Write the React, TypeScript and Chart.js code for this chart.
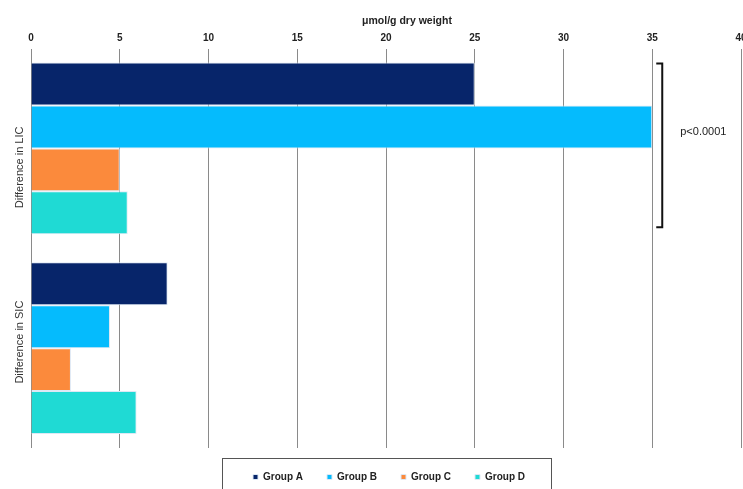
import React, { useEffect, useRef } from "react";
import { Chart, registerables } from "chart.js";

Chart.register(...registerables);

const categories = ["Difference in LIC", "Difference in SIC"];
const seriesNames = ["Group A", "Group B", "Group C", "Group D"];
const groupA = [25, 7.7];
const groupB = [35, 4.45];
const groupC = [5, 2.25];
const groupD = [5.45, 5.95];
const seriesColors = ["#07256a", "#05bbfd", "#fb8a3c", "#1fdad4"];
const xTicks = [0, 5, 10, 15, 20, 25, 30, 35, 40];
const xTitle = "μmol/g dry weight";
const pValueLabel = "p<0.0001";

const FONT = "'Liberation Sans', Arial, sans-serif";
// vertical nudge of each rotated category label (px), as in the original layout
const categoryLabelShift = [19, -6];

const annotate = {
  id: "annotate",
  afterDraw(chart: any) {
    const { ctx, chartArea, scales } = chart;
    const x = scales.x;
    const y = scales.y;
    ctx.save();
    // axis title
    ctx.font = `bold 10.5px ${FONT}`;
    ctx.fillStyle = "#222";
    ctx.textAlign = "center";
    ctx.textBaseline = "middle";
    ctx.fillText(xTitle, (chartArea.left + chartArea.right) / 2 + 21, 21);
    // category labels
    ctx.font = `11px ${FONT}`;
    ctx.fillStyle = "#333";
    categories.forEach((c, i) => {
      const py = y.getPixelForValue(i) + categoryLabelShift[i];
      ctx.save();
      ctx.translate(chartArea.left - 11, py);
      ctx.rotate(-Math.PI / 2);
      ctx.fillText(c, 0, 0);
      ctx.restore();
    });
    // bracket
    const first = chart.getDatasetMeta(0).data[0];
    const last = chart.getDatasetMeta(3).data[0];
    const bx = x.getPixelForValue(35) + 10;
    const top = first.y - first.height / 2 + 1;
    const bottom = last.y + last.height / 2 - 7;
    ctx.strokeStyle = "#111";
    ctx.lineWidth = 2;
    ctx.beginPath();
    ctx.moveTo(bx - 6, top);
    ctx.lineTo(bx, top);
    ctx.lineTo(bx, bottom);
    ctx.lineTo(bx - 6, bottom);
    ctx.stroke();
    ctx.font = `11px ${FONT}`;
    ctx.fillStyle = "#222";
    ctx.textAlign = "left";
    ctx.fillText(pValueLabel, bx + 18, (top + bottom) / 2 - 13);
    // legend frame
    const boxes = chart.legend?.legendHitBoxes;
    if (boxes && boxes.length) {
      const l = boxes[0].left - 31;
      const r = boxes[boxes.length - 1].left + boxes[boxes.length - 1].width + 26;
      const t = boxes[0].top - 14;
      ctx.strokeStyle = "#555";
      ctx.lineWidth = 1;
      ctx.strokeRect(Math.round(l) + 0.5, Math.round(t) + 0.5, Math.round(r - l), 60);
    }
    ctx.restore();
  },
};

export default function App() {
  const ref = useRef<HTMLCanvasElement>(null);
  useEffect(() => {
    if (!ref.current) return;
    const values = [groupA, groupB, groupC, groupD];
    const chart = new Chart(ref.current, {
      type: "bar",
      data: {
        labels: categories,
        datasets: seriesNames.map((name, i) => ({
          label: name,
          data: values[i],
          backgroundColor: seriesColors[i],
          borderColor: "#dde8f4",
          borderWidth: 1,
          barPercentage: 1,
          categoryPercentage: 0.86,
          xAxisID: "x",
          yAxisID: "y",
        })),
      },
      options: {
        indexAxis: "y",
        responsive: false,
        animation: false,
        layout: { padding: 0 },
        scales: {
          x: {
            type: "linear",
            position: "top",
            min: 0,
            max: 40,
            afterBuildTicks: (s: any) => {
              s.ticks = xTicks.map((v) => ({ value: v }));
            },
            afterFit: (s: any) => {
              s.height = 48.5;
            },
            ticks: {
              padding: 4,
              color: "#222",
              font: { family: FONT, size: 10, weight: "bold" },
            },
            grid: { color: "#8a8a8a", lineWidth: 1, drawTicks: false },
            border: { display: false },
          },
          y: {
            type: "category",
            position: "left",
            afterFit: (s: any) => {
              s.width = 31;
            },
            ticks: { display: false },
            grid: { display: false },
            border: { display: false },
          },
          yRight: {
            type: "linear",
            position: "right",
            afterFit: (s: any) => {
              s.width = 37;
            },
            ticks: { display: false },
            grid: { display: false },
            border: { display: false },
          },
        },
        plugins: {
          legend: {
            position: "bottom",
            labels: {
              usePointStyle: true,
              pointStyle: "rect",
              boxWidth: 5,
              boxHeight: 5,
              padding: 24,
              color: "#222",
              font: { family: FONT, size: 10, weight: "bold" },
            },
          },
          tooltip: { enabled: false },
          title: { display: false },
        },
      },
      plugins: [annotate],
    } as any);
    return () => chart.destroy();
  }, []);
  return (
    <div
      style={{
        position: "fixed",
        left: 0,
        top: 0,
        width: 743,
        height: 489,
        overflow: "hidden",
        background: "#fff",
      }}
    >
      <canvas ref={ref} width={778} height={492} style={{ width: 778, height: 492, display: "block" }} />
    </div>
  );
}
